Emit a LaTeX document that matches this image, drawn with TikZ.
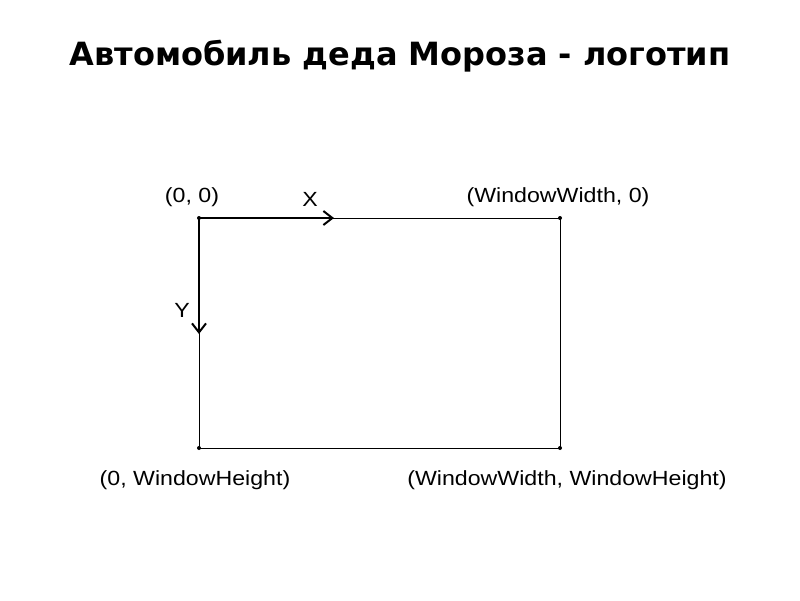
\documentclass[tikz,border=0pt]{standalone}
\usepackage{fontspec}
\setmainfont{Liberation Sans}
\newfontfamily\titlefont{DejaVu Sans}
\usetikzlibrary{arrows.meta}

\tikzset{
  lbl/.style={font=\fontsize{20.5}{22}\selectfont, inner sep=0pt, xscale=1.13},
  axis/.style={line width=2.6pt, -{Straight Barb[length=9pt,width=14pt,line width=2pt]}},
  corner/.style={fill=black}
}

\begin{document}
\begin{tikzpicture}[x=1pt,y=-1pt]
\useasboundingbox (0,0) rectangle (800,600);
% title
\node[font=\titlefont\bfseries\fontsize{32}{34}\selectfont] (title) at (400,56) {Автомобиль деда Мороза - логотип};
% window corners
\coordinate (o) at (199,218);
\coordinate (w) at (560,218);
\coordinate (h) at (199,448);
\coordinate (wh) at (560,448);
\draw[line width=0.9pt] (o) -- (w) -- (wh) -- (h) -- cycle;
\foreach \c in {o,w,h,wh} {
 \fill[corner] (\c) circle (2);
}
% axes
\coordinate (xe) at (334,218);
\coordinate (ye) at (199,334);
\draw[axis] (o) -- (xe);
\draw[axis] (o) -- (ye);
% labels
\node[lbl] (lo) at (192,197) {(0, 0)};
\node[lbl] (lx) at (310,199) {X};
\node[lbl] (lw) at (558,197) {(WindowWidth, 0)};
\node[lbl] (ly) at (182,310) {Y};
\node[lbl] (lh) at (195,480) {(0, WindowHeight)};
\node[lbl] (lwh) at (567,480) {(WindowWidth, WindowHeight)};
\end{tikzpicture}
\end{document}
